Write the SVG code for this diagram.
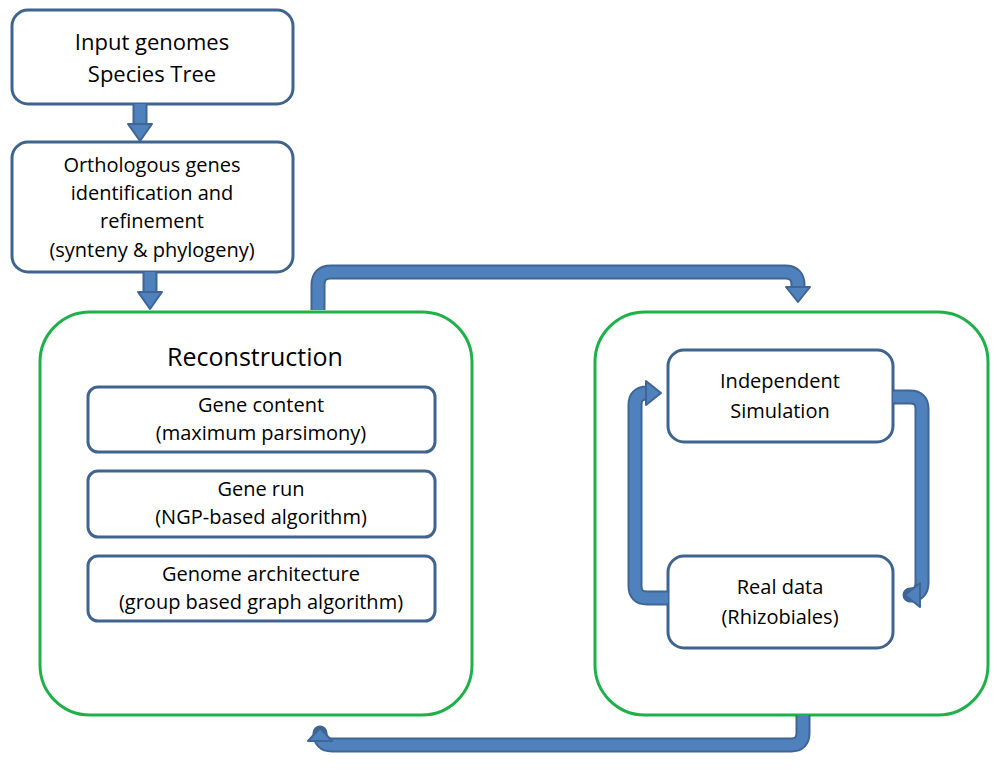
<svg xmlns="http://www.w3.org/2000/svg" width="1000" height="775" viewBox="0 0 1000 775">
<style>
.b{fill:#fff;stroke:#41648f;stroke-width:3}
.g{fill:#fff;stroke:#1fb04a;stroke-width:3}
text{font-family:"Open Sans","Liberation Sans",sans-serif;fill:#000;text-anchor:middle}
.t{font-size:20px}
.o{fill:none;stroke:#3f6595;stroke-width:15;stroke-linejoin:round}
.i{fill:none;stroke:#4f81bd;stroke-width:11;stroke-linejoin:round}
.h{fill:#4f81bd;stroke:#3f6595;stroke-width:2;stroke-linejoin:round}
</style>
<rect width="1000" height="775" fill="#fff"/>
<g id="n-input"><rect class="b" x="12" y="10" width="281" height="94" rx="16"/><text x="152" y="50" font-size="22">Input genomes</text><text x="152" y="82" font-size="22">Species Tree</text></g>
<g id="n-ortho"><rect class="b" x="12" y="142" width="281" height="130" rx="16"/><text class="t" x="152" y="172">Orthologous genes</text><text class="t" x="152" y="200">identification and</text><text class="t" x="152" y="228">refinement</text><text class="t" x="152" y="257">(synteny &amp; phylogeny)</text></g>
<g id="n-recon"><rect class="g" x="40" y="312" width="432" height="403" rx="50"/><text x="255" y="366" font-size="25">Reconstruction</text></g>
<g id="n-gc"><rect class="b" x="88" y="387" width="347" height="65" rx="10"/><text class="t" x="261" y="412">Gene content</text><text class="t" x="261" y="440">(maximum parsimony)</text></g>
<g id="n-gr"><rect class="b" x="88" y="471" width="347" height="66" rx="10"/><text class="t" x="261" y="496">Gene run</text><text class="t" x="261" y="524">(NGP-based algorithm)</text></g>
<g id="n-ga"><rect class="b" x="88" y="556" width="347" height="65" rx="10"/><text class="t" x="261" y="581">Genome architecture</text><text class="t" x="261" y="609">(group based graph algorithm)</text></g>
<g id="n-right"><rect class="g" x="595" y="312" width="393" height="403" rx="50"/></g>
<g id="n-sim"><rect class="b" x="668" y="350" width="225" height="92" rx="16"/><text class="t" x="780" y="388">Independent</text><text class="t" x="780" y="418">Simulation</text></g>
<g id="n-real"><rect class="b" x="668" y="556" width="225" height="92" rx="16"/><text class="t" x="780" y="594">Real data</text><text class="t" x="780" y="624">(Rhizobiales)</text></g>
<g id="connectors">
<path class="o" d="M140 104V126"/><path class="i" d="M140 104V126"/><polygon class="h" points="128,124 152,124 140,141"/>
<path class="o" d="M150 272V294"/><path class="i" d="M150 272V294"/><polygon class="h" points="138,292 162,292 150,309"/>
<path class="o" d="M318 310V285Q318 272 331 272H785Q798 272 798 285V288"/><path class="i" d="M318 310V285Q318 272 331 272H785Q798 272 798 285V288"/><polygon class="h" points="786,287 810,287 798,302"/>
<path class="o" d="M803 715V733Q803 745 791 745H332Q320 745 320 733V742"/><path class="i" d="M803 715V733Q803 745 791 745H332Q320 745 320 733"/><polygon class="h" points="308,741 332,741 320,728"/>
<path class="o" d="M893 397H910Q922 397 922 409V583Q922 595 910 595H918"/><path class="i" d="M893 397H910Q922 397 922 409V583Q922 595 910 595"/><polygon class="h" points="920,583 920,607 905,595"/>
<path class="o" d="M668 598H647Q635 598 635 586V405Q635 393 647 393H645"/><path class="i" d="M668 598H647Q635 598 635 586V405Q635 393 647 393"/><polygon class="h" points="646,381 646,405 661,393"/>
</g>
</svg>
